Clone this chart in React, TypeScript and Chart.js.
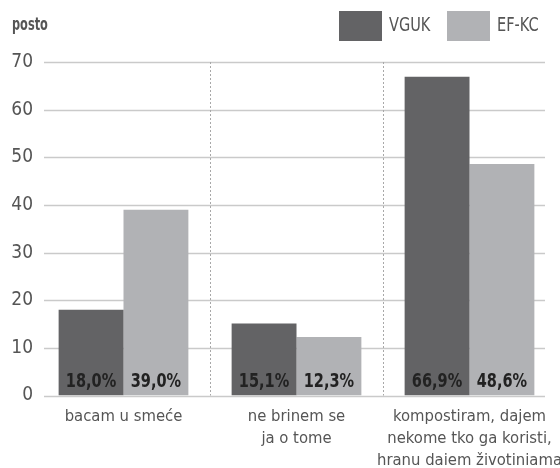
import React, { useEffect, useRef } from "react";
import { Chart, registerables } from "chart.js";

Chart.register(...registerables);

const categories: string[][] = [
  ["bacam u smeće"],
  ["ne brinem se", "ja o tome"],
  ["kompostiram, dajem", "nekome tko ga koristi,", "hranu daiem životiniama"],
];
const seriesNames = ["VGUK", "EF-KC"];
const vguk = [18.0, 15.1, 66.9];
const efkc = [39.0, 12.3, 48.6];
const yTicks = [0, 10, 20, 30, 40, 50, 60, 70];
const unitLabel = "posto";

const FONT = "'DejaVu Sans Condensed', 'Liberation Sans', sans-serif";
const DARK = "#636365";
const LIGHT = "#b1b2b5";
const TEXT = "#555555";

const fmt = (v: number) => v.toFixed(1).replace(".", ",") + "%";

function squeezeText(ctx: any, text: string, x: number, y: number, sx: number) {
  ctx.save();
  ctx.translate(x, y);
  ctx.scale(sx, 1);
  ctx.fillText(text, 0, 0);
  ctx.restore();
}

const customPlugin = {
  id: "custom",
  beforeDatasetsDraw(chart: any) {
    const { ctx, chartArea, scales } = chart;
    const y = scales.y;
    const x = scales.x;
    ctx.save();
    ctx.strokeStyle = "#cacaca";
    ctx.lineWidth = 1.3;
    yTicks.forEach((t) => {
      const py = Math.round(y.getPixelForValue(t)) + 0.5;
      ctx.beginPath();
      ctx.moveTo(44, py);
      ctx.lineTo(545, py);
      ctx.stroke();
    });
    ctx.strokeStyle = "#a8a8a8";
    ctx.lineWidth = 1;
    ctx.setLineDash([2, 2]);
    const n = categories.length;
    for (let i = 0; i < n - 1; i++) {
      const px = Math.round((x.getPixelForValue(i) + x.getPixelForValue(i + 1)) / 2) + 0.5;
      ctx.beginPath();
      ctx.moveTo(px, chartArea.top);
      ctx.lineTo(px, chartArea.bottom);
      ctx.stroke();
    }
    ctx.restore();
  },
  afterDatasetsDraw(chart: any) {
    const { ctx, chartArea } = chart;
    ctx.save();
    ctx.font = `bold 19px ${FONT}`;
    ctx.fillStyle = "#222222";
    ctx.textAlign = "center";
    ctx.textBaseline = "middle";
    chart.data.datasets.forEach((ds: any, di: number) => {
      const meta = chart.getDatasetMeta(di);
      meta.data.forEach((bar: any, i: number) => {
        squeezeText(ctx, fmt(ds.data[i]), bar.x, chartArea.bottom - 13.5, 0.85);
      });
    });
    ctx.restore();
  },
  afterDraw(chart: any) {
    const { ctx } = chart;
    ctx.save();
    ctx.font = `bold 18px ${FONT}`;
    ctx.fillStyle = TEXT;
    ctx.textAlign = "left";
    ctx.textBaseline = "middle";
    squeezeText(ctx, unitLabel, 12, 25, 0.7);
    const boxes = [339, 447];
    ctx.font = `19px ${FONT}`;
    chart.data.datasets.forEach((ds: any, di: number) => {
      ctx.fillStyle = ds.backgroundColor;
      ctx.fillRect(boxes[di], 11, 43, 30);
      ctx.fillStyle = TEXT;
      squeezeText(ctx, ds.label, boxes[di] + 50, 26, 0.85);
    });
    ctx.restore();
  },
};

export default function App() {
  const ref = useRef<HTMLCanvasElement>(null);
  useEffect(() => {
    if (!ref.current) return;
    const chart = new Chart(ref.current, {
      type: "bar",
      data: {
        labels: categories,
        datasets: [
          { label: seriesNames[0], data: vguk, backgroundColor: DARK, barPercentage: 1, categoryPercentage: 0.75 },
          { label: seriesNames[1], data: efkc, backgroundColor: LIGHT, barPercentage: 1, categoryPercentage: 0.75 },
        ],
      },
      options: {
        responsive: false,
        animation: false,
        layout: { padding: { top: 62, left: 0, right: 4, bottom: 0 } },
        plugins: { legend: { display: false }, tooltip: { enabled: false } },
        scales: {
          x: {
            grid: { display: false },
            border: { display: false },
            ticks: {
              color: TEXT,
              font: { family: FONT, size: 16.5, lineHeight: 1.34 },
              padding: 2,
              maxRotation: 0,
              autoSkip: false,
            },
            afterFit: (s: any) => {
              s.height = 72.5;
              s.paddingLeft = 0;
              s.paddingRight = 0;
            },
          },
          y: {
            min: 0,
            max: 70,
            grid: { display: false, drawTicks: false },
            border: { display: false },
            ticks: {
              stepSize: 10,
              color: TEXT,
              font: { family: FONT, size: 19 },
              padding: 4,
            },
            afterFit: (s: any) => {
              s.width = 37;
            },
          },
        },
      },
      plugins: [customPlugin],
    });
    return () => chart.destroy();
  }, []);
  return (
    <div style={{ position: "fixed", left: 0, top: 0, width: 560, height: 468, background: "#fff" }}>
      <canvas ref={ref} width={560} height={468} style={{ display: "block" }} />
    </div>
  );
}
